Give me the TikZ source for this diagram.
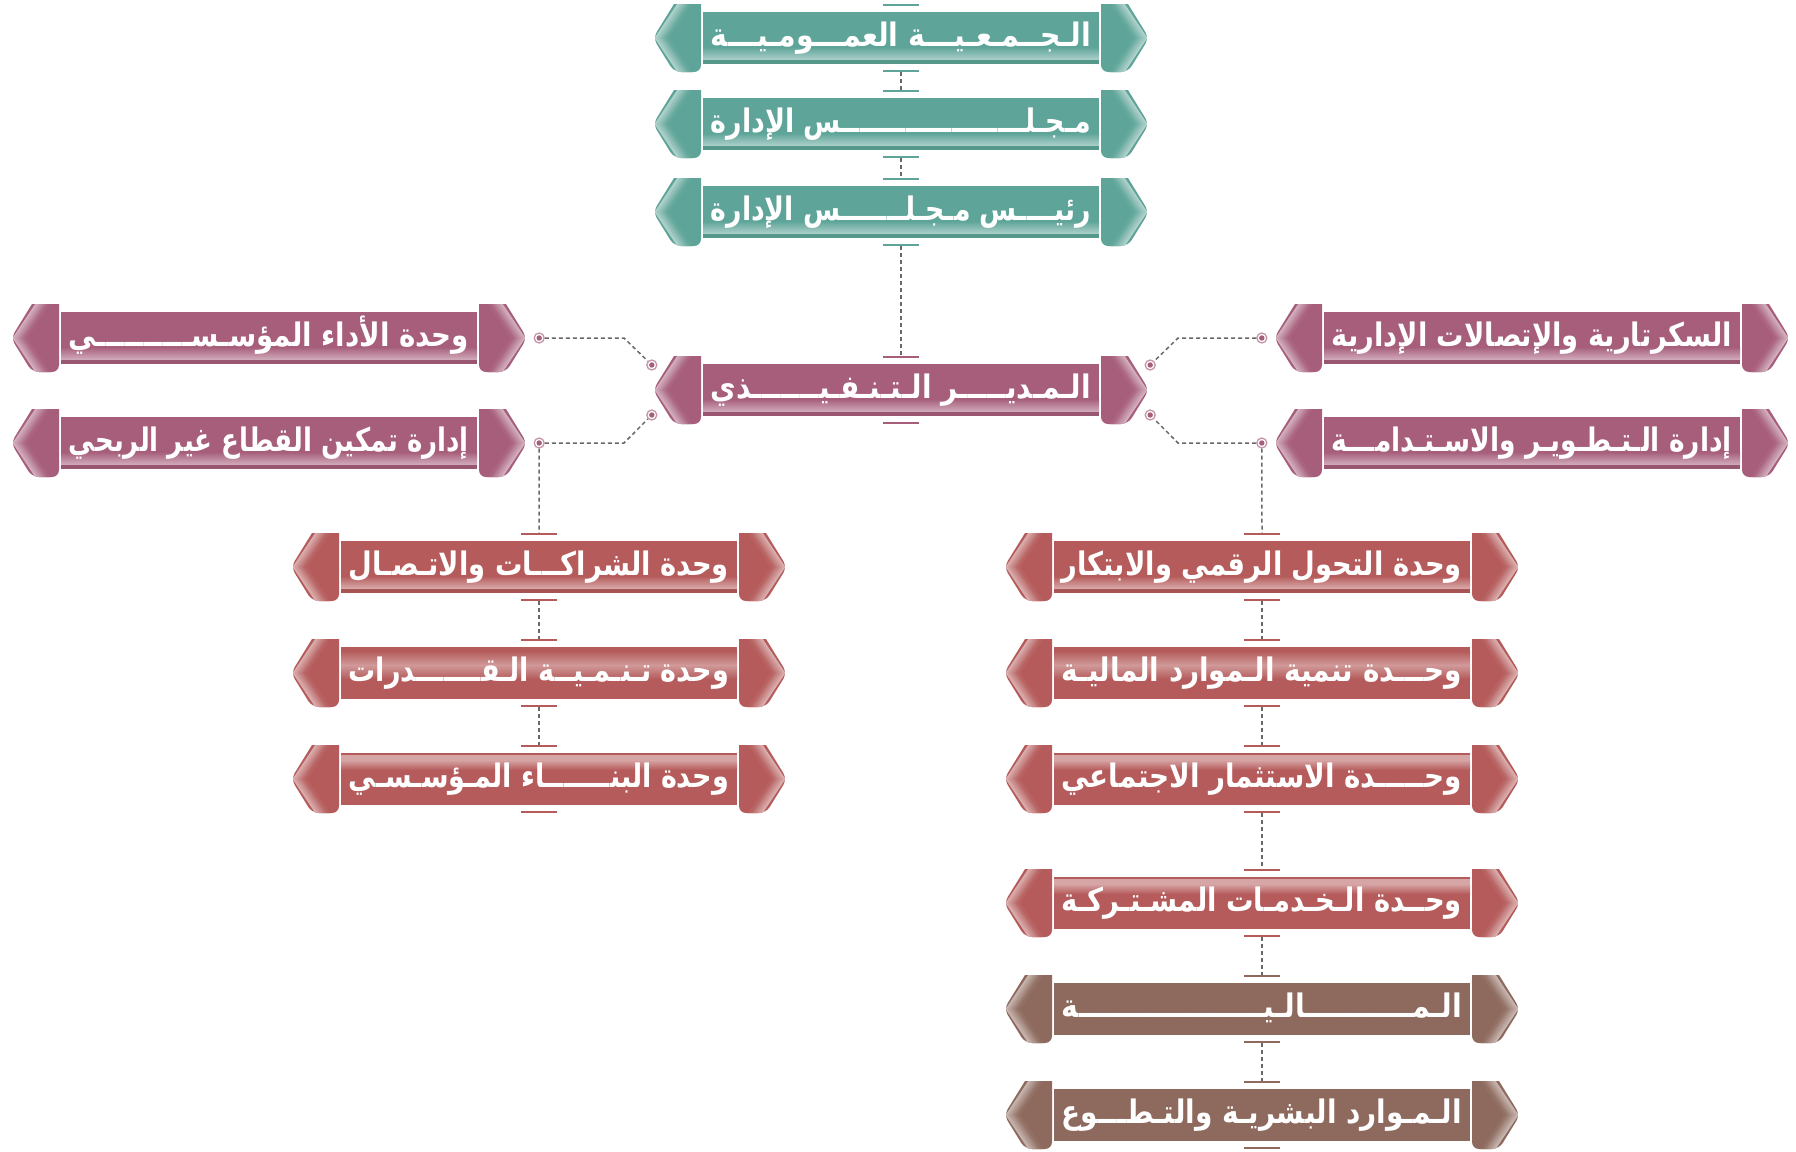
\documentclass[tikz,border=0pt]{standalone}
\usepackage{fontspec}
\usepackage{graphicx}
\newfontfamily\arabicfont[Script=Arabic]{DejaVu Sans}
\TeXXeTstate=1
\usetikzlibrary{calc}
\definecolor{cteal}{RGB}{94,164,152}
\definecolor{cpurple}{RGB}{166,94,123}
\definecolor{cred}{RGB}{181,91,91}
\definecolor{cbrown}{RGB}{142,106,94}
\definecolor{cdash}{RGB}{105,105,105}
\tikzset{
  dashconn/.style={draw=cdash, dash pattern=on 4pt off 3pt, line width=1.5pt},
  tickline/.style={line width=1.6pt},
  lbl/.style={text=white, font=\arabicfont\bfseries\fontsize{27}{30}\selectfont, inner sep=0pt, anchor=base east},
  boxanchor/.style={inner sep=0pt, minimum width=#1, minimum height=68pt, draw=none},
  ringdot/.style={circle, draw=#1!65!white, fill=white, line width=1.3pt, minimum size=10pt, inner sep=0pt,
    path picture={\fill[#1] (path picture bounding box.center) circle (2.7pt);}},
}
\newsavebox\lblbox
\newcommand{\fittext}[2]{%
  \sbox\lblbox{#2}%
  \pgfmathsetmacro\fitsx{#1/\wd\lblbox}%
  \scalebox{\fitsx}[1.2]{\usebox\lblbox}}
% left cap in local coordinates; #1 = half width, #2 = colour
\newcommand{\capdraw}[2]{%
  \fill[#2] ({-#1+48},-34) -- ({-#1+21},-34) [rounded corners=7pt] -- ({-#1},0) -- ({-#1+21},34) -- ({-#1+48},34) [sharp corners] -- cycle;
  \begin{scope}
    \clip ({-#1+48},-34) -- ({-#1+21},-34) [rounded corners=7pt] -- ({-#1},0) -- ({-#1+21},34) -- ({-#1+48},34) [sharp corners] -- cycle;
    \foreach \oo/\mm in {3/50,5/58,7/66,9/74,11/82,13/90,15/96}{
      \draw[#2!\mm!white, line width=2.4pt] ({-#1+\oo+24},-36) -- ({-#1+\oo},0) -- ({-#1+\oo+24},36);
    }
  \end{scope}
}
% #1 name, #2 cx, #3 cy, #4 half width, #5 colour, #6 band (bot/top/mid/none), #7 text
\newcommand{\obox}[7]{%
  \begin{scope}[shift={(#2,#3)}]
    \node[boxanchor=#4*2pt] (#1) at (0,0) {};
    \capdraw{#4}{#5}
    \begin{scope}[xscale=-1]\capdraw{#4}{#5}\end{scope}
    \fill[#5] ({-#4+50},-26) rectangle ({#4-50},26);
    \csname band#6\endcsname{#4}{#5}
    \pgfmathsetmacro\tgtw{2*#4-116}
    \node[lbl] (#1-t) at ({#4-58},8) {\fittext{\tgtw}{#7}};
  \end{scope}
}
\newcommand{\bandbot}[2]{%
  \shade[top color=#2, bottom color=#2!50!white] ({-#1+50},9) rectangle ({#1-50},22);
  \fill[#2!92!black] ({-#1+50},22) rectangle ({#1-50},26);
}
\newcommand{\bandtop}[2]{%
  \fill[#2!55!white] ({-#1+50},-24) rectangle ({#1-50},-19);
  \shade[top color=#2!55!white, bottom color=#2] ({-#1+50},-19) rectangle ({#1-50},-9);
}
\newcommand{\bandmid}[2]{%
  \shade[top color=#2, bottom color=#2!62!white] ({-#1+50},-22) rectangle ({#1-50},-8);
  \shade[top color=#2!62!white, bottom color=#2] ({-#1+50},-8) rectangle ({#1-50},6);
}
\newcommand{\bandnone}[2]{}
\newcommand{\boxticks}[2]{%
  \draw[tickline,#2] ([xshift=-18pt,yshift=-1pt]#1.north) -- ([xshift=18pt,yshift=-1pt]#1.north);
  \draw[tickline,#2] ([xshift=-18pt,yshift=1pt]#1.south) -- ([xshift=18pt,yshift=1pt]#1.south);
}
\begin{document}
\begin{tikzpicture}[x=1pt,y=-1pt]
\useasboundingbox (0,0) rectangle (1796,1151);
% top column
\obox{ga}{901}{38}{248}{cteal}{bot}{\beginR الـجــمـعـيـــة العمـــومـيـــة\endR}
\obox{bd}{901}{124}{248}{cteal}{bot}{\beginR مـجـلــــــــــــــــــــس الإدارة\endR}
\obox{ch}{901}{212}{248}{cteal}{bot}{\beginR رئيــــس مـجـلـــــــس الإدارة\endR}
\obox{ex}{901}{390}{248}{cpurple}{bot}{\beginR الـمـديـــــر الـتـنـفـيـــــــذي\endR}
% side boxes
\obox{lp1}{269}{338}{258}{cpurple}{bot}{\beginR وحدة الأداء المؤسـســــــــــي\endR}
\obox{lp2}{269}{443}{258}{cpurple}{bot}{\beginR إدارة تمكين القطاع غير الربحي\endR}
\obox{rp1}{1532}{338}{258}{cpurple}{bot}{\beginR السكرتارية والإتصالات الإدارية\endR}
\obox{rp2}{1532}{443}{258}{cpurple}{bot}{\beginR إدارة الـتـطـويـر والاسـتـدامـــة\endR}
% left column
\obox{lr1}{539}{567}{248}{cred}{bot}{\beginR وحدة الشراكـــات والاتـصـال\endR}
\obox{lr2}{539}{673}{248}{cred}{mid}{\beginR وحدة تـنـمـيــة الـقـــــــدرات\endR}
\obox{lr3}{539}{779}{248}{cred}{top}{\beginR وحدة البنـــــــاء المـؤسـسـي\endR}
% right column
\obox{rr1}{1262}{567}{258}{cred}{bot}{\beginR وحدة التحول الرقمي والابتكار\endR}
\obox{rr2}{1262}{673}{258}{cred}{mid}{\beginR وحـــدة تنمية الـموارد الماليـة\endR}
\obox{rr3}{1262}{779}{258}{cred}{top}{\beginR وحـــــدة الاستثمار الاجتماعي\endR}
\obox{rr4}{1262}{903}{258}{cred}{top}{\beginR وحــدة الـخـدمـات المشـتـركـة\endR}
\obox{rb1}{1262}{1009}{258}{cbrown}{none}{\beginR الـمـــــــــــالـيـــــــــــــــــــة\endR}
\obox{rb2}{1262}{1115}{258}{cbrown}{none}{\beginR الـمـوارد البشريـة والتـطـــوع\endR}
% ticks
\boxticks{ga}{cteal}\boxticks{bd}{cteal}\boxticks{ch}{cteal}
\boxticks{ex}{cpurple}
\boxticks{lr1}{cred}\boxticks{lr2}{cred}\boxticks{lr3}{cred}
\boxticks{rr1}{cred}\boxticks{rr2}{cred}\boxticks{rr3}{cred}\boxticks{rr4}{cred}
\boxticks{rb1}{cbrown}\boxticks{rb2}{cbrown}
% dots
\node[ringdot=cpurple] (exd1) at ([yshift=25pt,xshift=-1pt]ex.west) {};
\node[ringdot=cpurple] (exd2) at ([yshift=-25pt,xshift=-1pt]ex.west) {};
\node[ringdot=cpurple] (exd3) at ([yshift=25pt,xshift=1pt]ex.east) {};
\node[ringdot=cpurple] (exd4) at ([yshift=-25pt,xshift=1pt]ex.east) {};
\node[ringdot=cpurple] (lp1d) at ([xshift=12pt]lp1.east) {};
\node[ringdot=cpurple] (lp2d) at ([xshift=12pt]lp2.east) {};
\node[ringdot=cpurple] (rp1d) at ([xshift=-12pt]rp1.west) {};
\node[ringdot=cpurple] (rp2d) at ([xshift=-12pt]rp2.west) {};
\coordinate (bl1) at (624,338);
\coordinate (bl2) at (624,443);
\coordinate (br1) at (1178,338);
\coordinate (br2) at (1178,443);
% connectors
\draw[dashconn] (ga.south) -- (bd.north);
\draw[dashconn] (bd.south) -- (ch.north);
\draw[dashconn] (ch.south) -- (ex.north);
\draw[dashconn] (lp1d) -- (bl1) -- (exd1);
\draw[dashconn] (lp2d) -- (bl2) -- (exd2);
\draw[dashconn] (rp1d) -- (br1) -- (exd3);
\draw[dashconn] (rp2d) -- (br2) -- (exd4);
\draw[dashconn] (lp2d) -- (lr1.north);
\draw[dashconn] (lr1.south) -- (lr2.north);
\draw[dashconn] (lr2.south) -- (lr3.north);
\draw[dashconn] (rp2d) -- (rr1.north);
\draw[dashconn] (rr1.south) -- (rr2.north);
\draw[dashconn] (rr2.south) -- (rr3.north);
\draw[dashconn] (rr3.south) -- (rr4.north);
\draw[dashconn] (rr4.south) -- (rb1.north);
\draw[dashconn] (rb1.south) -- (rb2.north);
\end{tikzpicture}
\end{document}
